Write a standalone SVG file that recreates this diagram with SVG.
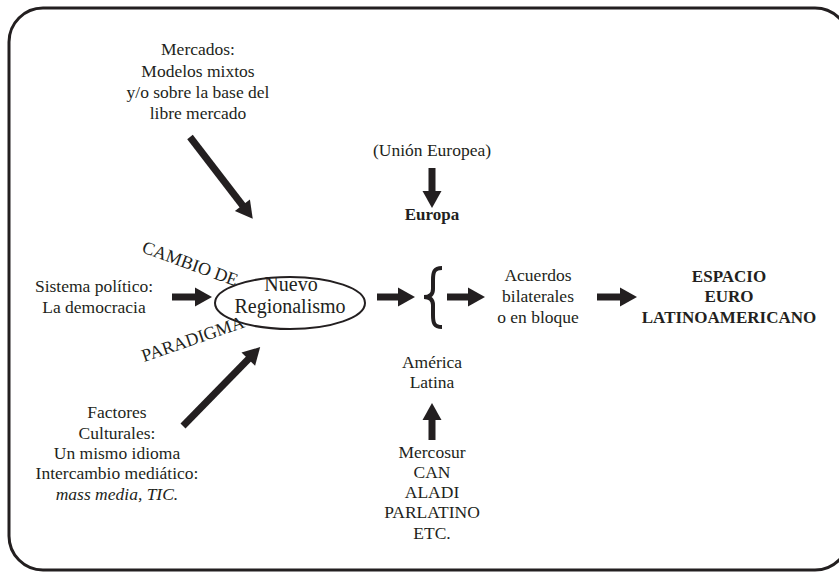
<svg xmlns="http://www.w3.org/2000/svg" width="839" height="572" viewBox="0 0 839 572" font-family="Liberation Serif, DejaVu Serif, serif">
<style>
text{font-family:"Liberation Serif",serif}
.t{font-size:17.5px;fill:#231f20;text-anchor:middle}
.b{font-weight:bold;font-size:17px}
.i{font-style:italic}
.big{font-size:20px}
.rot{font-size:18px;text-anchor:start}
.sh{stroke:#231f20;stroke-width:7;fill:none;marker-end:url(#ah)}
</style>
<defs>
<marker id="ah" markerUnits="userSpaceOnUse" markerWidth="17" markerHeight="20" viewBox="0 -10 17 20" refX="0" refY="0" orient="auto" overflow="visible">
<path d="M-1,-9.5 L16,0 L-1,9.5 z" fill="#231f20"/>
</marker>
</defs>
<rect x="9" y="8" width="840" height="562" rx="34" ry="34" fill="#fff" stroke="#231f20" stroke-width="3"/>

<g id="mercados" font-family="Liberation Serif, serif">
<text class="t" x="198" y="55">Mercados:</text>
<text class="t" x="198" y="77">Modelos mixtos</text>
<text class="t" x="198" y="98">y/o sobre la base del</text>
<text class="t" x="198" y="119">libre mercado</text>
</g>
<g id="sistema" font-family="Liberation Serif, serif">
<text class="t" x="94" y="292">Sistema político:</text>
<text class="t" x="94" y="313">La democracia</text>
</g>
<g id="factores" font-family="Liberation Serif, serif">
<text class="t" x="117" y="418">Factores</text>
<text class="t" x="117" y="439">Culturales:</text>
<text class="t" x="117" y="459">Un mismo idioma</text>
<text class="t" x="117" y="479">Intercambio mediático:</text>
<text class="t i" x="117" y="500">mass media, TIC.</text>
</g>
<g id="cambio" font-family="Liberation Serif, serif">
<text class="t rot" transform="translate(141,252) rotate(20)">CAMBIO DE</text>
<text class="t rot" transform="translate(144,362) rotate(-19)">PARADIGMA</text>
</g>
<g id="nuevo" font-family="Liberation Serif, serif">
<ellipse cx="290" cy="303" rx="75" ry="26" fill="none" stroke="#231f20" stroke-width="2"/>
<text class="t big" x="291" y="291">Nuevo</text>
<text class="t big" x="290" y="313">Regionalismo</text>
</g>
<g id="ue" font-family="Liberation Serif, serif">
<text class="t" x="432" y="156">(Unión Europea)</text>
</g>
<g id="europa" font-family="Liberation Serif, serif">
<text class="t b" x="432" y="220">Europa</text>
</g>
<g id="brace">
<path d="M442,268 C434,268 433,272 433,280 L433,289 C433,294 430,297 424,297 C430,297 433,300 433,305 L433,315 C433,323 434,327 442,327" fill="none" stroke="#231f20" stroke-width="4"/>
</g>
<g id="acuerdos" font-family="Liberation Serif, serif">
<text class="t" x="538" y="281">Acuerdos</text>
<text class="t" x="538" y="302">bilaterales</text>
<text class="t" x="538" y="323">o en bloque</text>
</g>
<g id="espacio" font-family="Liberation Serif, serif">
<text class="t b" x="729" y="282">ESPACIO</text>
<text class="t b" x="729" y="302">EURO</text>
<text class="t b" x="729" y="323">LATINOAMERICANO</text>
</g>
<g id="america" font-family="Liberation Serif, serif">
<text class="t" x="432" y="368">América</text>
<text class="t" x="432" y="388">Latina</text>
</g>
<g id="mercosur" font-family="Liberation Serif, serif">
<text class="t" x="432" y="458">Mercosur</text>
<text class="t" x="432" y="478">CAN</text>
<text class="t" x="432" y="498">ALADI</text>
<text class="t" x="432" y="518">PARLATINO</text>
<text class="t" x="432" y="539">ETC.</text>
</g>
<g id="connectors">
<line class="sh" x1="172" y1="297" x2="196" y2="297"/>
<line class="sh" x1="377" y1="297" x2="399" y2="297"/>
<line class="sh" x1="447" y1="297" x2="469" y2="297"/>
<line class="sh" x1="597" y1="297" x2="621" y2="297"/>
<line class="sh" x1="432" y1="168" x2="432" y2="192"/>
<line class="sh" x1="432" y1="440" x2="432" y2="419"/>
<line class="sh" x1="190" y1="137" x2="243" y2="206"/>
<line class="sh" x1="183" y1="426" x2="249" y2="358.5"/>
</g>
</svg>
